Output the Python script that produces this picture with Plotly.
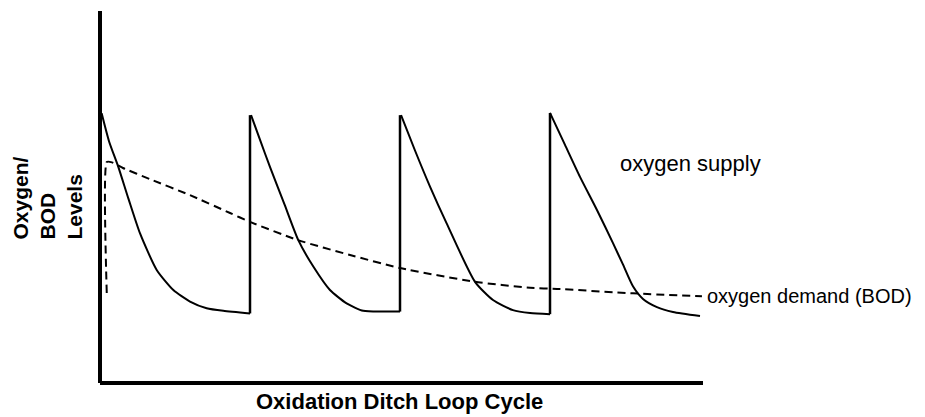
import plotly.graph_objects as go

# ---- data (x: loop-cycle time, one cycle = 1 unit; y: level 0-100) ----
supply_t = [0.011, 0.06, 0.122, 0.19, 0.267, 0.378, 0.489, 0.6, 0.711, 0.822, 1.0, None,
            1.007, 1.07, 1.133, 1.23, 1.322, 1.422, 1.533, 1.644, 1.755, 1.88, 2.0, None,
            2.007, 2.1, 2.2, 2.311, 2.5, 2.62, 2.753, 2.867, 3.0, None,
            3.0, 3.1, 3.2, 3.313, 3.42, 3.487, 3.553, 3.62, 3.713, 3.82, 4.0]
supply_y = [72.5, 65.0, 58.1, 49.5, 40.2, 30.4, 25.0, 21.9, 20.1, 19.4, 18.7, None,
            72.0, 65.0, 58.1, 48.0, 38.4, 31.3, 25.0, 21.4, 19.4, 19.2, 19.2, None,
            72.0, 62.5, 52.8, 42.9, 27.2, 22.3, 19.6, 18.8, 18.5, None,
            72.6, 64.0, 55.4, 46.5, 37.6, 31.8, 26.0, 22.6, 20.4, 19.1, 18.0]

jump_t = [1.0, 1.0, None, 2.0, 2.0, None, 3.0, 3.0]
jump_y = [18.7, 72.0, None, 19.2, 72.0, None, 18.5, 72.6]

demand_t = [0.045, 0.045, 0.08, 0.153, 0.333, 0.6, 0.867, 1.0, 1.32, 1.667, 2.0,
            2.5, 2.867, 3.047, 3.553, 4.013]
demand_y = [24.2, 59.4, 59.3, 57.8, 54.8, 50.5, 45.7, 43.3, 38.4, 34.4, 30.9,
            27.2, 25.6, 25.3, 24.1, 23.3]

supply_label = "oxygen supply"
demand_label = "oxygen demand (BOD)"
x_title = "Oxidation Ditch Loop Cycle"
y_title_lines = ["Oxygen/", "BOD", "Levels"]

FONT = "Liberation Sans, Arial, sans-serif"

fig = go.Figure()
fig.add_trace(go.Scatter(x=supply_t, y=supply_y, mode="lines",
                         line=dict(color="black", width=2, shape="spline", smoothing=0.6),
                         connectgaps=False, hoverinfo="skip"))
fig.add_trace(go.Scatter(x=jump_t, y=jump_y, mode="lines",
                         line=dict(color="black", width=2.5),
                         connectgaps=False, hoverinfo="skip"))
fig.add_trace(go.Scatter(x=demand_t, y=demand_y, mode="lines",
                         line=dict(color="black", width=2, dash="8px,5px", shape="spline", smoothing=0.5),
                         hoverinfo="skip"))

fig.update_layout(
    width=909, height=409,
    margin=dict(l=92, r=214, t=3, b=34),
    paper_bgcolor="white", plot_bgcolor="white",
    showlegend=False,
    xaxis=dict(range=[0, 4.02], visible=False, fixedrange=True),
    yaxis=dict(range=[0, 100], visible=False, fixedrange=True),
    font=dict(family=FONT, color="black"),
    shapes=[
        dict(type="line", xref="paper", yref="paper", x0=0, x1=0, y0=0, y1=1,
             line=dict(color="black", width=4)),
        dict(type="line", xref="paper", yref="paper", x0=0, x1=1, y0=0, y1=0,
             line=dict(color="black", width=4)),
    ],
    annotations=[
        dict(text=supply_label, xref="paper", yref="y", x=0.859, y=59.1,
             xanchor="left", yanchor="middle", showarrow=False,
             font=dict(size=22, family=FONT)),
        dict(text=demand_label, xref="paper", yref="y", x=1.003, y=23.4,
             xanchor="left", yanchor="middle", showarrow=False,
             font=dict(size=20, family=FONT)),
        dict(text="<b>" + x_title + "</b>", xref="paper", yref="paper", x=0.4975, y=-0.049,
             xanchor="center", yanchor="middle", showarrow=False,
             font=dict(size=22, family=FONT)),
        dict(text="<br>".join("<b>" + s + "</b>" for s in y_title_lines),
             xref="paper", yref="paper",
             x=-0.0862, y=0.496, textangle=-90, align="left",
             xanchor="center", yanchor="middle", showarrow=False,
             font=dict(size=21, family=FONT)),
    ],
)

fig.write_html("out.html")
